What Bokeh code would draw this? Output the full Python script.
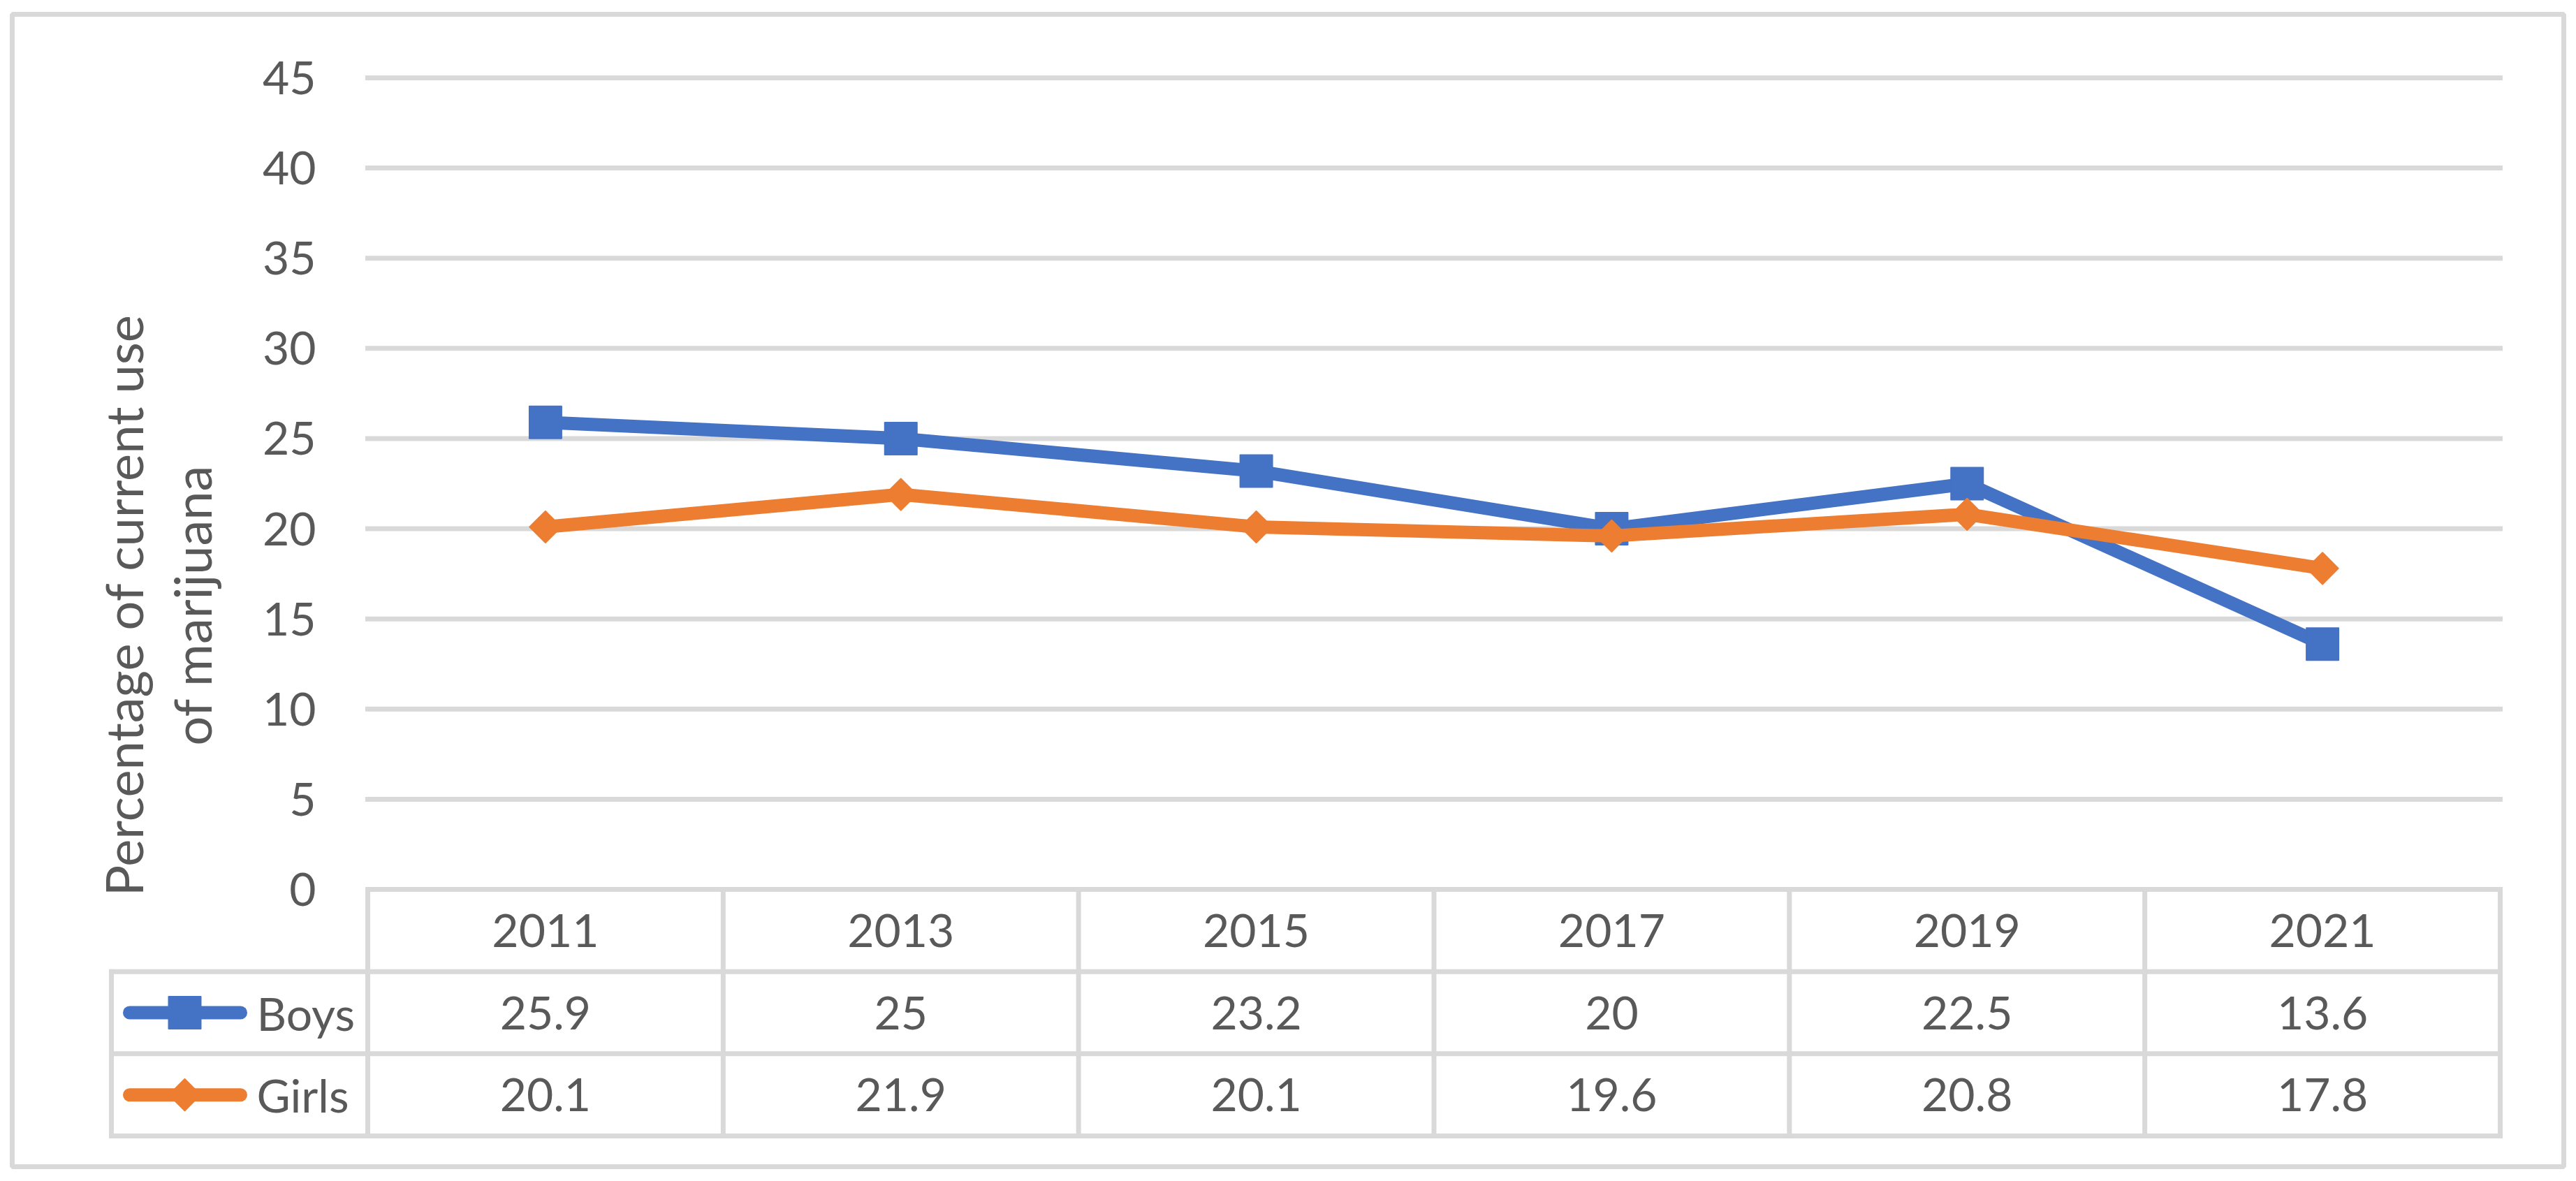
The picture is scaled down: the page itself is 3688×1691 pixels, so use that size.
import numpy as np
from bokeh.plotting import figure
from bokeh.models import Range1d
from bokeh.core.properties import value
from bokeh.embed import file_html
from bokeh.resources import INLINE

# ---------------- data ----------------
YEARS = ["2011", "2013", "2015", "2017", "2019", "2021"]
BOYS = [25.9, 25, 23.2, 20, 22.5, 13.6]
GIRLS = [20.1, 21.9, 20.1, 19.6, 20.8, 17.8]
SERIES_NAMES = ["Boys", "Girls"]
Y_TICKS = [0, 5, 10, 15, 20, 25, 30, 35, 40, 45]
Y_TITLE_LINES = ["Percentage of current use", "of marijuana"]

# ---------------- style / layout ----------------
BLUE = "#4472C4"
ORANGE = "#ED7D31"
GRID = "#D9D9D9"
TEXT = "#595959"
FONT = "Lato"

PAGE_OFF = 0
FL, FT, FR, FB = 17, 20, 3670, 1670        # outer box (page px)
PLOT_L, PLOT_R = 526, 3579                  # plot area left / right
Y_ZERO, Y_TOP = 1273, 111                   # y of value 0 and of top tick
TBL_BOTTOM = 1626
LEG_L = 159
TICK_LABEL_RIGHT = 452
TITLE_X = (176, 274)
TITLE_Y = 866

n = len(YEARS)
cat_w = (PLOT_R - PLOT_L) / n
ppu = (Y_ZERO - Y_TOP) / max(Y_TICKS)
row_h = (TBL_BOTTOM - Y_ZERO) / 3


def xd(px):
    return (px - PLOT_L) / cat_w


def yd(py):
    return (Y_ZERO - py) / ppu


def td(py):
    return (py - Y_ZERO) / row_h


p = figure(
    width=FR - PAGE_OFF + 10,
    height=FB - PAGE_OFF + 10,
    min_border_left=FL - PAGE_OFF,
    min_border_top=FT - PAGE_OFF,
    min_border_right=10,
    min_border_bottom=10,
    x_range=Range1d(xd(FL), xd(FR)),
    y_range=Range1d(yd(FB), yd(FT)),
    x_axis_location=None,
    y_axis_location=None,
    toolbar_location=None,
    output_backend="svg",
)
p.extra_y_ranges = {"tbl": Range1d(td(FB), td(FT))}
p.grid.visible = False
p.background_fill_color = "white"
p.border_fill_color = "white"
p.outline_line_color = GRID
p.outline_line_width = 7

# horizontal gridlines (0 line is the table's top edge)
p.segment(x0=[0] * len(Y_TICKS), x1=[n] * len(Y_TICKS), y0=Y_TICKS, y1=Y_TICKS,
          line_color=GRID, line_width=7, line_cap="square")

# y tick labels
p.text(x=[0] * len(Y_TICKS), y=Y_TICKS, text=[str(t) for t in Y_TICKS],
       x_offset=-(PLOT_L - TICK_LABEL_RIGHT), text_align="right", text_baseline="middle",
       text_font=value(FONT), text_font_size="66px", text_color=TEXT)

# y title
p.text(x=[xd(TITLE_X[0]), xd(TITLE_X[1])], y=[yd(TITLE_Y)] * 2, text=Y_TITLE_LINES,
       angle=np.pi / 2, text_align="center", text_baseline="alphabetic",
       text_font=value(FONT), text_font_size="74px", text_color=TEXT)

# data table grid
leg_x = xd(LEG_L)
hx0 = [0, leg_x, leg_x, leg_x]
hx1 = [n, n, n, n]
hy = [0, 1, 2, 3]
p.segment(x0=hx0, x1=hx1, y0=hy, y1=hy, y_range_name="tbl",
          line_color=GRID, line_width=7, line_cap="square")
vx = list(range(n + 1)) + [leg_x]
vy0 = [0] * (n + 1) + [1]
vy1 = [3] * (n + 2)
p.segment(x0=vx, x1=vx, y0=vy0, y1=vy1, y_range_name="tbl",
          line_color=GRID, line_width=7, line_cap="square")

xs = [i + 0.5 for i in range(n)]

# table texts
p.text(x=xs, y=[0.5] * n, text=YEARS, y_range_name="tbl",
       text_align="center", text_baseline="middle",
       text_font=value(FONT), text_font_size="66px", text_color=TEXT)
for row, vals in ((1.5, BOYS), (2.5, GIRLS)):
    p.text(x=xs, y=[row] * n, text=[f"{v:g}" for v in vals], y_range_name="tbl",
           text_align="center", text_baseline="middle",
           text_font=value(FONT), text_font_size="66px", text_color=TEXT)

# legend keys + names in table
p.text(x=[xd(367)] * 2, y=[1.5, 2.5], text=SERIES_NAMES, y_range_name="tbl",
       text_align="left", text_baseline="middle",
       text_font=value(FONT), text_font_size="66px", text_color=TEXT)
for row, col in ((1.5, BLUE), (2.5, ORANGE)):
    p.segment(x0=[xd(185)], x1=[xd(344)], y0=[row], y1=[row], y_range_name="tbl",
              line_color=col, line_width=19, line_cap="round")
p.scatter(x=[xd(264)], y=[1.5], y_range_name="tbl", marker="square", size=46,
          fill_color=BLUE, line_color=BLUE, line_width=2, line_join="round")
p.scatter(x=[xd(264)], y=[2.5], y_range_name="tbl", marker="square", size=32,
          angle=np.pi / 4, fill_color=ORANGE, line_color=ORANGE, line_width=2,
          line_join="round")

# series
p.line(x=xs, y=BOYS, line_color=BLUE, line_width=19, line_join="round")
p.scatter(x=xs, y=BOYS, marker="square", size=46, fill_color=BLUE, line_color=BLUE,
          line_width=2, line_join="round")
p.line(x=xs, y=GIRLS, line_color=ORANGE, line_width=19, line_join="round")
p.scatter(x=xs, y=GIRLS, marker="square", size=32, angle=np.pi / 4, fill_color=ORANGE,
          line_color=ORANGE, line_width=2, line_join="round")

open("out.html", "w").write(file_html(p, INLINE))
